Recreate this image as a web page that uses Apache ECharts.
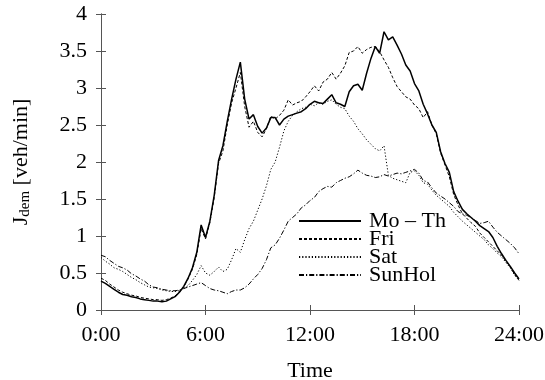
<!DOCTYPE html>
<html><head><meta charset="utf-8">
<script src="https://cdn.jsdelivr.net/npm/echarts@6/dist/echarts.min.js"></script>
<style>html,body{margin:0;padding:0;background:#fff}#c{width:545px;height:380px}</style>
</head><body><div id="c"></div>
<script>
const hours = [0,0.25,0.5,0.75,1,1.25,1.5,1.75,2,2.25,2.5,2.75,3,3.25,3.5,3.75,4,4.25,4.5,4.75,5,5.25,5.5,5.75,6,6.25,6.5,6.75,7,7.25,7.5,7.75,8,8.25,8.5,8.75,9,9.25,9.5,9.75,10,10.25,10.5,10.75,11,11.25,11.5,11.75,12,12.25,12.5,12.75,13,13.25,13.5,13.75,14,14.25,14.5,14.75,15,15.25,15.5,15.75,16,16.25,16.5,16.75,17,17.25,17.5,17.75,18,18.25,18.5,18.75,19,19.25,19.5,19.75,20,20.25,20.5,20.75,21,21.25,21.5,21.75,22,22.25,22.5,22.75,23,23.25,23.5,23.75,24];
const moTh = [0.39,0.36,0.32,0.28,0.24,0.21,0.20,0.18,0.17,0.15,0.14,0.13,0.12,0.12,0.11,0.12,0.15,0.18,0.24,0.32,0.43,0.57,0.78,1.15,0.98,1.20,1.55,2.02,2.22,2.55,2.85,3.12,3.35,2.85,2.58,2.64,2.48,2.39,2.46,2.60,2.60,2.50,2.58,2.62,2.64,2.66,2.68,2.72,2.78,2.82,2.80,2.79,2.85,2.91,2.80,2.78,2.75,2.95,3.03,3.05,2.97,3.20,3.40,3.56,3.47,3.76,3.65,3.69,3.58,3.46,3.31,3.23,3.06,2.96,2.78,2.65,2.50,2.40,2.14,1.98,1.86,1.60,1.47,1.36,1.30,1.25,1.20,1.14,1.10,1.06,0.98,0.86,0.76,0.67,0.59,0.50,0.42];
const fri = [0.43,0.40,0.35,0.31,0.27,0.24,0.22,0.20,0.19,0.17,0.16,0.15,0.14,0.14,0.13,0.14,0.16,0.19,0.24,0.31,0.42,0.55,0.75,1.10,0.96,1.18,1.52,1.98,2.15,2.50,2.80,3.00,3.21,2.75,2.47,2.55,2.40,2.34,2.45,2.62,2.58,2.63,2.70,2.84,2.77,2.80,2.82,2.88,2.95,3.03,2.96,3.08,3.12,3.21,3.12,3.20,3.30,3.48,3.50,3.56,3.47,3.52,3.55,3.56,3.49,3.38,3.28,3.14,3.02,2.95,2.88,2.85,2.77,2.72,2.60,2.68,2.50,2.38,2.12,1.96,1.80,1.56,1.42,1.30,1.24,1.18,1.13,1.04,0.98,0.92,0.86,0.80,0.74,0.66,0.58,0.48,0.40];
const sat = [0.71,0.66,0.62,0.57,0.55,0.52,0.48,0.44,0.41,0.37,0.34,0.31,0.30,0.29,0.27,0.26,0.25,0.25,0.26,0.29,0.33,0.40,0.48,0.60,0.50,0.47,0.52,0.58,0.52,0.55,0.68,0.83,0.78,0.95,1.10,1.20,1.35,1.50,1.68,1.90,2.00,2.20,2.42,2.55,2.63,2.68,2.72,2.74,2.78,2.76,2.80,2.78,2.82,2.84,2.78,2.74,2.72,2.62,2.55,2.45,2.38,2.30,2.24,2.18,2.15,2.22,1.82,1.78,1.76,1.74,1.72,1.86,1.88,1.82,1.72,1.70,1.62,1.55,1.50,1.45,1.40,1.32,1.26,1.20,1.15,1.10,1.05,1.00,0.95,0.88,0.83,0.77,0.72,0.64,0.57,0.47,0.40];
const sunHol = [0.74,0.72,0.67,0.63,0.59,0.57,0.54,0.49,0.46,0.42,0.39,0.34,0.31,0.30,0.28,0.27,0.26,0.26,0.27,0.29,0.31,0.33,0.35,0.37,0.33,0.29,0.27,0.26,0.24,0.22,0.25,0.27,0.27,0.30,0.35,0.42,0.48,0.56,0.68,0.84,0.88,0.97,1.08,1.20,1.25,1.30,1.38,1.42,1.48,1.52,1.60,1.64,1.67,1.66,1.72,1.75,1.78,1.80,1.84,1.89,1.85,1.82,1.81,1.79,1.80,1.83,1.81,1.83,1.85,1.84,1.86,1.88,1.90,1.85,1.75,1.73,1.65,1.58,1.54,1.50,1.45,1.40,1.33,1.30,1.28,1.25,1.21,1.17,1.18,1.20,1.12,1.05,1.00,0.95,0.90,0.84,0.76];
const seriesNames = ['Mo \u2013 Th','Fri','Sat','SunHol'];
const xTicks = [0,6,12,18,24];

const font = '"Liberation Serif","DejaVu Serif",serif';
const pairs = v => hours.map((h,i)=>[h,v[i]]);
const styles = [
  {width:1.5, type:'solid'},
  {width:1, type:[3,2]},
  {width:1, type:[1.2,2]},
  {width:1, type:[5,2,1.2,2]}
];
const vals = [moTh, fri, sat, sunHol];
const frame = {show:true, lineStyle:{color:'#555', width:1}};
const chart = echarts.init(document.getElementById('c'), null, {renderer:'canvas'});
chart.setOption({
  animation:false,
  backgroundColor:'#fff',
  grid:{left:101, right:26, top:14, bottom:70, containLabel:false, outerBoundsMode:'none'},
  legend:{
    orient:'vertical', left:293, top:205, itemWidth:62, itemHeight:12, itemGap:-4,
    data:seriesNames,
    itemStyle:{opacity:0},
    textStyle:{fontFamily:font, fontSize:22, color:'#000', lineHeight:18, padding:[0,0,0,3]}
  },
  xAxis:[{
    type:'value', min:0, max:24, interval:6, position:'bottom',
    name:'Time', nameLocation:'middle', nameGap:50,
    nameTextStyle:{fontFamily:font, fontSize:22, color:'#000'},
    axisLine:frame, axisTick:{inside:true, length:5, lineStyle:{color:'#555'}},
    splitLine:{show:false},
    axisLabel:{fontFamily:font, fontSize:22, color:'#000', margin:14, formatter:v=>xTicks.includes(v)?(v+':00'):''}
  },{
    type:'value', min:0, max:24, interval:6, position:'top',
    axisLine:frame, axisTick:{inside:true, length:5, lineStyle:{color:'#555'}},
    axisLabel:{show:false}, splitLine:{show:false}
  }],
  yAxis:[{
    type:'value', min:0, max:4, interval:0.5, position:'left',
    name:'{a|J}{b|dem}{a| [veh/min]}', nameLocation:'middle', nameGap:68, nameRotate:90,
    nameTextStyle:{fontFamily:font, fontSize:22, color:'#000',
      rich:{a:{fontFamily:font, fontSize:22, color:'#000'}, b:{fontFamily:font, fontSize:15, color:'#000', padding:[9,0,0,0]}}},
    axisLine:frame, axisTick:{inside:true, length:5, lineStyle:{color:'#555'}},
    splitLine:{show:false},
    axisLabel:{fontFamily:font, fontSize:22, color:'#000', margin:14}
  },{
    type:'value', min:0, max:4, interval:0.5, position:'right',
    axisLine:frame, axisTick:{inside:true, length:5, lineStyle:{color:'#555'}},
    axisLabel:{show:false}, splitLine:{show:false}
  }],
  series: seriesNames.map((n,i)=>({
    name:n, type:'line', data:pairs(vals[i]), showSymbol:false, symbol:'none',
    lineStyle:{color:'#000', width:styles[i].width, type:styles[i].type},
    itemStyle:{color:'#000'}
  }))
});
</script></body></html>
